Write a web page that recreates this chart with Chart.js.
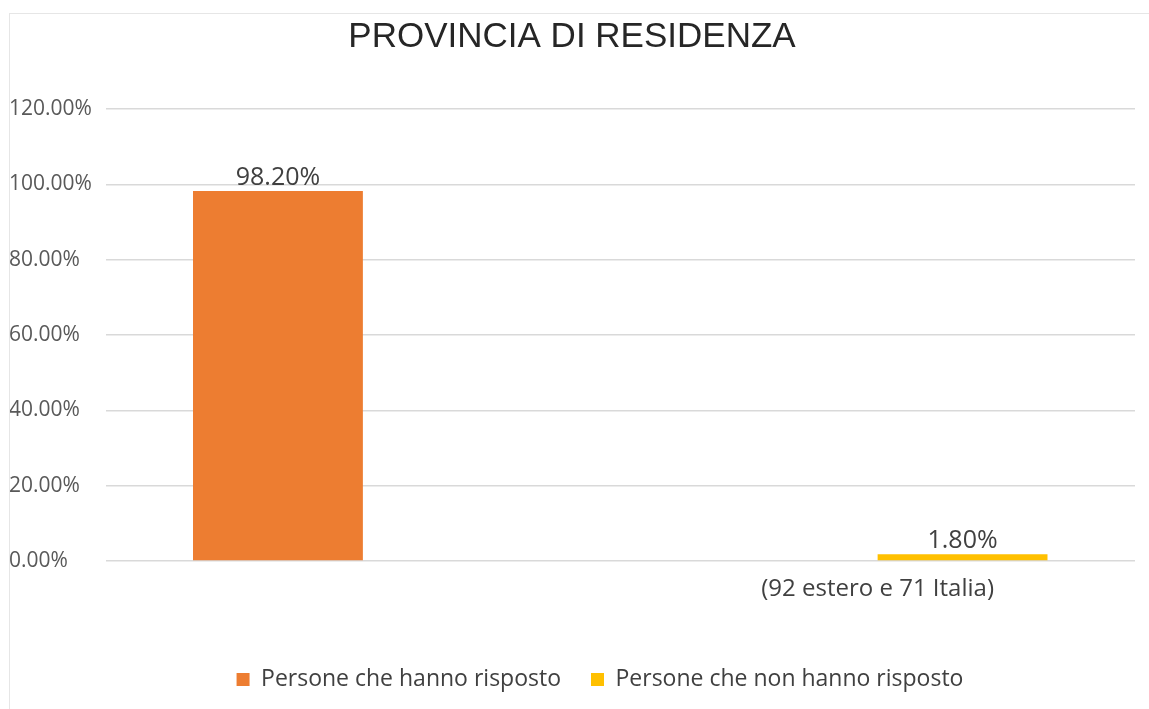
<!DOCTYPE html>
<html>
<head>
<meta charset="utf-8">
<script src="https://cdn.jsdelivr.net/npm/chart.js@4/dist/chart.umd.min.js"></script>
<style>
  html, body { margin: 0; padding: 0; background: #fff; }
  #wrap { position: relative; width: 1149px; height: 709px; }
  #frame { position: absolute; left: 9px; top: 13px; width: 1200px; height: 700px;
           border-left: 1px solid #e6e6e6; border-top: 1px solid #e6e6e6; pointer-events: none; }
</style>
</head>
<body>
<div id="wrap">
  <canvas id="provChart" width="1149" height="709"></canvas>
  <div id="frame"></div>
</div>
<script>
"use strict"
//chart data
var categories = ["", "(92 estero e 71 Italia)"];
var seriesNames = ["Persone che hanno risposto", "Persone che non hanno risposto"];
var rispostoValues = [98.2, null];
var nonRispostoValues = [null, 1.8];
var yTicks = [0, 20, 40, 60, 80, 100, 120];

//draws the value labels above each bar
var valueLabels = {
  id: "valueLabels",
  afterDatasetsDraw: function(chart) {
    var ctx = chart.ctx;
    ctx.save();
    ctx.font = "25px 'Open Sans'";
    ctx.fillStyle = "#404040";
    ctx.textAlign = "center";
    ctx.textBaseline = "bottom";
    chart.data.datasets.forEach(function(ds, i) {
      chart.getDatasetMeta(i).data.forEach(function(bar, j) {
        if (ds.data[j] === null) return;
        ctx.fillText(ds.data[j].toFixed(2) + "%", bar.x, bar.y - 1);
      });
    });
    ctx.restore();
  }
};

//legend sits a bit right of centre in the original
var legendShift = {
  id: "legendShift",
  afterLayout: function(chart) {
    chart.legend.left += 28;
    chart.legend.right += 28;
  }
};

var provC = document.getElementById("provChart");
var provChart = new Chart(provC, {
  type: "bar",
  data: {
    labels: categories,
    datasets: [
      {
        label: seriesNames[0],
        backgroundColor: "#ed7d31",
        data: rispostoValues
      },
      {
        label: seriesNames[1],
        backgroundColor: "#ffc000",
        data: nonRispostoValues
      }
    ]
  },
  options: {
    responsive: false,
    animation: false,
    categoryPercentage: 0.66,
    barPercentage: 1,
    layout: { padding: { left: 9, right: 14, top: 0, bottom: 8 } },
    plugins: {
      title: {
        display: true,
        text: "PROVINCIA DI RESIDENZA",
        color: "#262626",
        font: { family: "'Liberation Sans', Arial", size: 35, weight: "normal" },
        padding: { top: 16, bottom: 51 }
      },
      legend: {
        position: "bottom",
        labels: {
          color: "#404040",
          font: { family: "'Open Sans'", size: 23 },
          boxWidth: 13,
          boxHeight: 13,
          padding: 30
        }
      },
      tooltip: { enabled: false }
    },
    scales: {
      x: {
        grid: { display: false, drawTicks: false },
        border: { display: false },
        afterFit: function(scale) { scale.height = 77; },
        ticks: {
          color: "#404040",
          font: { family: "'Open Sans'", size: 24 },
          padding: 14
        }
      },
      y: {
        min: 0,
        max: 120,
        afterBuildTicks: function(scale) {
          scale.ticks = yTicks.map(function(v) { return { value: v }; });
        },
        afterFit: function(scale) { scale.width = 96.5; },
        grid: { color: "#d9d9d9", drawTicks: false, lineWidth: 1.5 },
        border: { display: false },
        ticks: {
          color: "#595959",
          font: { family: "'Open Sans'", size: 21 },
          crossAlign: "far",
          padding: 0,
          callback: function(v) { return v.toFixed(2) + "%"; }
        }
      }
    }
  },
  plugins: [valueLabels, legendShift]
});
</script>
</body>
</html>
